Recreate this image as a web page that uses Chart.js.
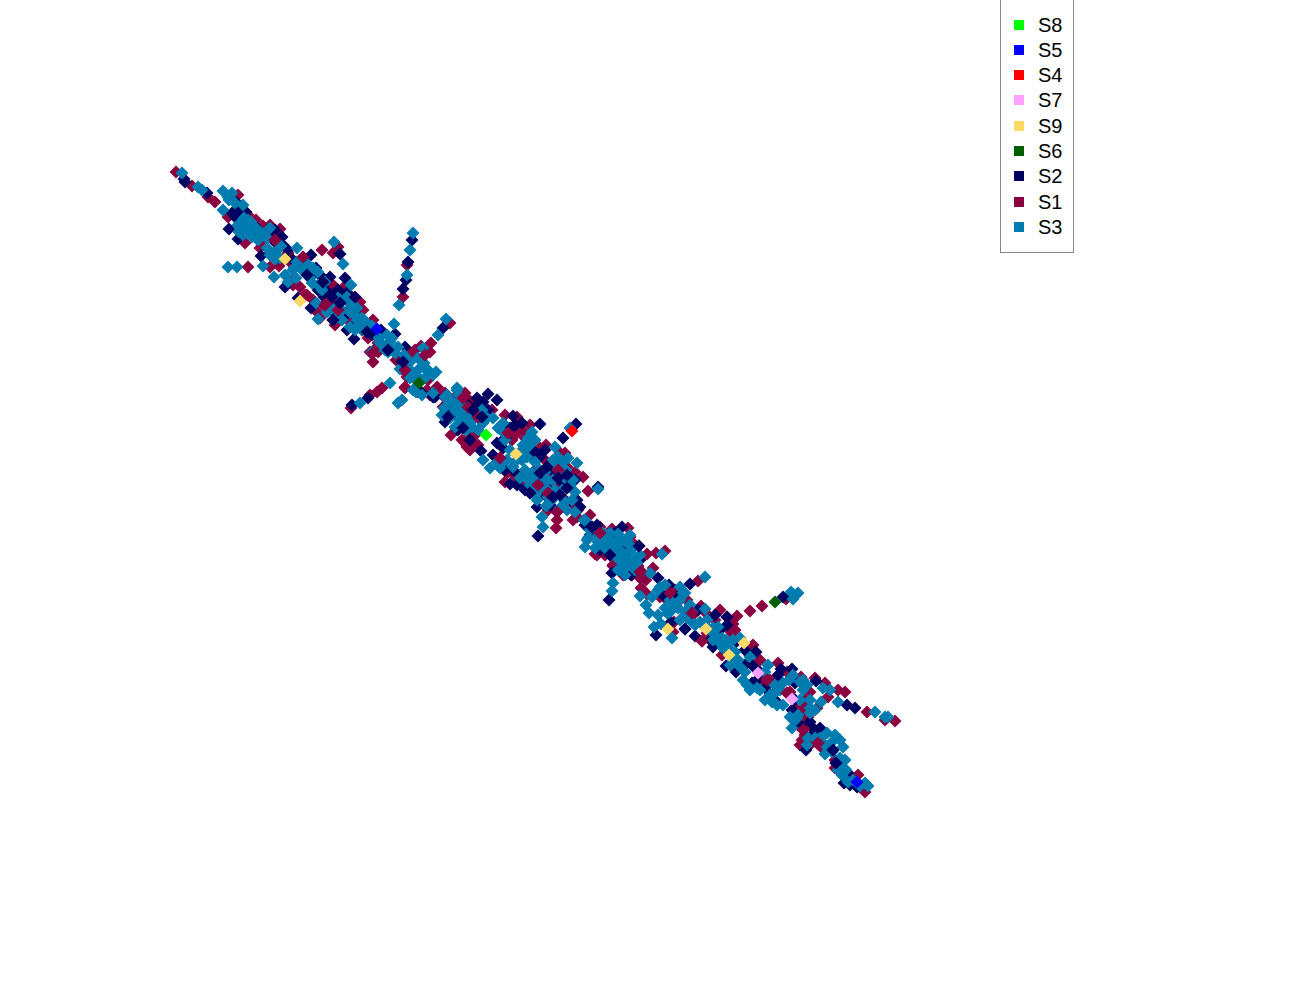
<!DOCTYPE html>
<html>
<head>
<meta charset="utf-8">
<title>Scatter</title>
<script src="https://cdn.jsdelivr.net/npm/chart.js@4/dist/chart.umd.min.js"></script>
<style>
  html, body { margin: 0; padding: 0; background: #fff; overflow: hidden; }
  #wrap { position: relative; width: 1300px; height: 1000px; }
  #legend { position: absolute; left: 1000px; top: -2px; width: 72px; height: 253px; border: 1px solid #888; background: #fff;
            font: 20px "Liberation Sans", Arial, sans-serif; color: #000; }
  #legend div { position: absolute; left: 37px; line-height: 22px; }
  #legend i { position: absolute; left: -24px; top: 6px; width: 10px; height: 10px; }
</style>
</head>
<body>
<div id="wrap">
  <canvas id="chart" width="1300" height="1000"></canvas>
  <div id="legend"></div>
</div>
<script>
// --- Points ---
const s1 = [[176,172],[192,186],[208,197],[215,202],[238,195],[228,217],[245,243],[248,215],[263,226],[280,229],[273,240],[260,248],[322,250],[338,247],[333,253],[248,267],[303,257],[288,253],[279,266],[270,267],[293,285],[307,295],[317,312],[323,305],[335,325],[328,302],[333,285],[343,288],[360,302],[353,322],[373,320],[368,338],[378,352],[373,362],[407,265],[403,297],[431,343],[430,352],[421,346],[412,353],[405,387],[407,377],[450,323],[400,360],[351,408],[377,392],[370,395],[382,388],[443,407],[437,387],[427,390],
  [451,435],[467,447],[472,443],[462,440],[405,388],[438,388],[467,398],[457,395],[500,458],[508,433],[517,433],[540,448],[517,417],[492,410],[524,485],[538,485],[557,488],[567,467],[575,472],[583,477],[588,491],[557,512],[557,520],[556,528],[597,555],[612,529],[613,566],[507,473],[560,453],[565,453],[630,537],[572,503],
  [577,517],[595,554],[600,533],[647,554],[665,551],[656,553],[613,565],[623,575],[642,572],[653,568],[698,581],[641,588],[647,594],[670,593],[665,598],[687,600],[701,606],[687,610],[695,613],[737,616],[733,624],[750,611],[762,606],[786,599],[702,641],[674,622],[673,632],[707,633],[722,655],[731,632],[760,660],[753,645],[778,663],[787,672],[801,677],[760,680],[770,680],[787,693],[815,678],[825,683],[838,690],[845,692],[828,697],[810,692],[817,708],[867,712],[895,721],[885,720],[803,730],[802,740],[817,743],[821,747],[835,768],[865,792],[858,775],[790,692],[805,707],[797,710],[803,718],
  [270,225],[256,220],[270,253],[283,260],[262,245],[278,233],[290,262],[295,278],[300,287],[302,298],[313,300],[320,318],[326,292],[345,298],[352,300],[346,318],[363,310],[355,312],[378,343],[370,352],[376,348],[396,360],[406,362],[415,350],[405,372],[407,365],[428,380],[418,392],[430,395],[442,395],[452,400],[348,293],
  [455,403],[465,393],[473,403],[445,393],[460,425],[470,435],[475,435],[478,445],[470,450],[465,443],[505,415],[522,430],[530,425],[512,440],[525,438],[546,445],[505,482],[515,476],[535,470],[545,460],[553,475],[562,497],[548,510],[578,510],[573,520],[590,515],[600,527],[593,532],[608,538],[605,555],[617,550],[628,528],[635,545],
  [605,535],[632,575],[640,578],[646,580],[638,566],[660,597],[675,590],[680,595],[705,612],[715,620],[720,610],[735,630],[745,650],[762,675],[765,677],[775,680],[778,685],[805,700],[800,712],[808,717],[795,700],[810,725],[805,735],[810,745],[828,748],[860,787],[835,760],[800,745]];
const s2 = [[184,179],[185,182],[207,193],[237,210],[236,218],[229,229],[238,239],[257,228],[255,233],[275,230],[282,237],[261,256],[340,254],[311,255],[285,287],[308,268],[330,277],[345,278],[313,275],[322,283],[333,295],[332,300],[347,293],[298,298],[311,308],[333,320],[347,330],[354,339],[367,332],[395,334],[405,347],[390,350],[402,362],[412,240],[406,280],[408,262],[403,289],[443,328],[420,392],[368,398],[352,405],[433,397],[450,417],
  [488,394],[497,400],[483,402],[477,398],[445,422],[483,417],[513,416],[515,425],[540,424],[576,424],[563,438],[497,443],[503,448],[481,451],[493,455],[540,457],[510,484],[517,485],[530,493],[547,467],[553,470],[558,478],[567,475],[567,488],[552,507],[560,495],[568,503],[538,536],[590,527],[622,527],[610,555],[421,392],[435,397],[463,428],[598,487],[513,470],[580,507],[537,507],
  [592,527],[639,546],[612,573],[631,575],[609,600],[658,578],[690,584],[669,585],[685,629],[656,635],[671,622],[695,636],[715,615],[727,617],[727,625],[736,642],[756,652],[713,647],[726,666],[736,672],[753,666],[781,669],[792,669],[816,681],[847,705],[855,708],[783,597],[775,692],[815,730],[806,750],[833,750],[836,763],[844,783],[752,683],[780,682],[792,710],[810,722],[677,597],
  [237,203],[240,212],[232,213],[246,212],[262,236],[270,235],[276,243],[268,232],[288,250],[283,245],[293,260],[300,262],[316,268],[320,275],[326,290],[318,290],[324,297],[338,290],[341,300],[327,305],[338,315],[345,316],[349,310],[355,325],[362,330],[372,335],[381,330],
  [450,410],[445,415],[468,405],[474,408],[488,410],[478,406],[458,430],[470,440],[510,428],[522,423],[505,438],[530,455],[535,452],[545,450],[520,475],[505,470],[525,490],[545,495],[540,480],[550,490],[575,480],[562,482],[577,500],[585,525],[597,530],[605,535],[590,535],[615,533],[622,545],[600,550],
  [597,525],[613,553],[630,548],[640,560],[620,570],[663,595],[680,600],[698,610],[710,640],[720,630],[745,650],[750,655],[745,665],[760,672],[757,680],[765,688],[778,675],[795,683],[775,700],[795,700],[800,725],[820,728],[812,735],[848,773],[850,785],[857,787]];
const s3 = [[202,190],[198,187],[182,173],[223,191],[228,197],[243,205],[223,210],[245,225],[242,222],[250,232],[240,228],[248,220],[255,237],[270,228],[267,238],[267,248],[277,250],[275,259],[297,248],[334,242],[343,264],[228,267],[237,267],[263,266],[274,277],[285,275],[288,282],[297,262],[308,265],[310,278],[325,282],[351,285],[347,297],[357,308],[342,310],[327,312],[318,319],[342,320],[350,327],[360,323],[367,323],[357,320],[316,303],[413,233],[410,250],[407,275],[399,305],[394,324],[387,335],[380,343],[390,342],[372,352],[395,353],[410,362],[423,348],[438,335],[446,319],[400,369],[418,370],[423,367],[413,373],[433,375],[390,383],[402,400],[398,403],[360,403],[445,397],[457,390],[452,403],[442,415],[433,393],[413,390],
  [457,388],[447,395],[457,403],[455,410],[463,413],[455,427],[473,420],[472,427],[483,423],[493,418],[482,410],[503,423],[503,432],[483,460],[490,468],[500,468],[507,460],[513,467],[528,438],[532,432],[523,445],[527,457],[522,460],[532,473],[537,480],[528,480],[547,480],[553,480],[557,467],[555,447],[570,428],[577,463],[558,457],[540,490],[537,500],[550,502],[565,502],[575,492],[573,480],[598,489],[575,512],[584,520],[542,517],[543,527],[585,547],[588,538],[597,537],[603,543],[620,543],[613,547],[627,540],[623,553],[633,548],[617,558],[627,563],[635,560],[610,533],
  [585,520],[587,540],[598,542],[595,548],[613,543],[620,538],[627,543],[615,548],[622,555],[627,560],[632,567],[623,563],[637,563],[625,568],[650,573],[662,554],[613,583],[612,591],[660,587],[658,590],[680,587],[683,593],[705,577],[640,596],[652,597],[646,605],[649,613],[658,615],[654,627],[661,624],[672,638],[670,612],[678,608],[667,613],[690,605],[705,609],[690,620],[695,625],[687,618],[718,627],[713,640],[722,638],[723,648],[740,638],[733,660],[750,657],[740,667],[768,665],[743,680],[757,688],[775,693],[772,702],[793,675],[807,685],[803,690],[823,688],[830,690],[810,700],[821,702],[838,702],[875,712],[885,717],[888,717],[790,717],[797,718],[792,728],[807,745],[827,733],[832,742],[840,740],[843,747],[825,754],[840,758],[843,768],[842,775],[853,780],[865,783],[791,592],[798,593],[793,599],[810,713],[795,720],
  [238,225],[244,218],[251,222],[256,228],[247,230],[252,237],[243,235],[239,232],[258,240],[262,233],[232,193],[229,200],[235,203],[280,258],[270,255],[281,246],[294,268],[302,270],[313,268],[318,272],[318,285],[322,290],[303,260],[293,270],[296,278],[312,283],[336,303],[349,303],[336,318],[350,312],[338,298],[330,310],[355,315],[362,318],[355,330],[362,330],[372,326],[379,338],[383,345],[385,350],[392,338],[398,347],[388,352],[404,355],[418,358],[424,363],[410,370],[416,375],[425,378],[418,382],[410,378],[428,370],[436,372],[422,395],[416,392],
  [450,400],[462,405],[467,415],[450,418],[460,420],[466,430],[478,417],[478,430],[487,418],[475,412],[459,395],[444,408],[468,422],[458,412],[498,428],[505,440],[510,450],[500,465],[497,462],[520,452],[525,450],[530,445],[535,440],[515,462],[525,470],[520,478],[535,462],[540,470],[545,472],[530,485],[533,492],[545,487],[555,490],[548,497],[562,490],[555,497],[546,506],[560,508],[570,485],[572,500],[567,510],[565,478],[560,470],[563,462],[553,460],[568,458],[566,470],
  [605,540],[610,540],[605,548],[618,534],[630,552],[640,555],[625,575],[640,572],[603,533],[590,530],[630,535],[612,552],[635,570],[618,570],[665,585],[670,600],[675,605],[680,600],[685,593],[665,608],[685,612],[680,620],[692,612],[700,622],[707,620],[710,630],[716,636],[720,643],[726,640],[713,628],[733,640],[728,648],[735,652],[730,665],[738,660],[745,672],[747,685],[750,690],[765,672],[760,690],[765,700],[770,695],[780,690],[775,685],[783,683],[789,680],[800,682],[803,680],[783,705],[777,705],[810,708],[800,700],[815,710],[798,715],[815,738],[820,738],[808,738],[835,735],[825,745],[832,752],[845,760],[838,770],[848,782],[846,770],[860,786],[868,786]];
// S1 and S2 points that sit over S3 in the picture
const s1Over = [[275,240],[303,257],[330,300],[325,305],[373,353],[405,370],[425,355],[305,295],[338,310],[463,398],[468,407],[478,417],[508,433],[500,458],[558,470],[538,485],[548,493],[557,512],[600,533],[640,572],[670,593],[692,613],[702,641],[767,680],[803,730],[818,743],[787,693]];
const s2Over = [[332,297],[307,275],[323,282],[340,303],[355,297],[333,320],[367,332],[388,350],[403,362],[448,417],[473,410],[482,417],[463,428],[515,425],[547,467],[558,478],[567,475],[553,497],[567,488],[560,495],[540,473],[530,493],[592,527],[610,555],[639,546],[727,617],[685,629],[753,666],[833,750],[836,763]];
const s4 = [[572,431]];
const s5 = [[377,329],[857,782]];
const s6 = [[419,383],[775,602]];
const s7 = [[758,673],[792,699]];
const s8 = [[486,435]];
const s9 = [[285,259],[300,301],[516,454],[668,629],[706,629],[744,643],[729,655]];
// faint tree edges, null breaks the line
const edges = [[397,310],[393,323],null,[390,383],[400,373],null,[637,580],[657,600],null,[766,655],[775,663],null,[740,610],[725,620]];

// legend order, top to bottom
const legendNames = ['S8','S5','S4','S7','S9','S6','S2','S1','S3'];
const colors = { S1:'#8a0040', S2:'#000060', S3:'#007cb0', S4:'#ff0000', S5:'#0000ff', S6:'#006000', S7:'#ffa0ff', S8:'#00ff00', S9:'#ffd966' };

const toPoints = (list) => list.map(p => p ? { x: p[0], y: p[1] } : { x: null, y: null });
const series = (name, list, order) => ({
  label: name, data: toPoints(list), order: order,
  pointStyle: 'rectRot', pointRadius: 6.5, pointHoverRadius: 6.5,
  pointBackgroundColor: colors[name], backgroundColor: colors[name], borderWidth: 0, pointBorderWidth: 0, showLine: false
});

// order: higher numbers are drawn first
new Chart(document.getElementById('chart'), {
  type: 'scatter',
  data: {
    datasets: [
      { label: 'edges', data: toPoints(edges), showLine: true, pointRadius: 0, borderColor: '#e8e8e8', borderWidth: 1, order: 20 },
      series('S1', s1, 12), series('S2', s2, 11), series('S3', s3, 10),
      series('S1', s1Over, 9), series('S2', s2Over, 8),
      series('S9', s9, 6), series('S7', s7, 5), series('S6', s6, 4),
      series('S4', s4, 3), series('S5', s5, 2), series('S8', s8, 1)
    ]
  },
  options: {
    responsive: false, animation: false,
    layout: { padding: 0, autoPadding: false },
    plugins: { legend: { display: false }, tooltip: { enabled: false } },
    scales: {
      x: { type: 'linear', min: 0, max: 1300, display: false },
      y: { type: 'linear', min: 0, max: 1000, reverse: true, display: false }
    }
  }
});

// Legend sits half off the top of the page like the original
const legendBox = document.getElementById('legend');
legendNames.forEach((name, i) => {
  const row = document.createElement('div');
  row.style.top = (14.5 + i * 25.3) + 'px';
  row.innerHTML = '<i style="background:' + colors[name] + '"></i>' + name;
  legendBox.appendChild(row);
});
</script>
</body>
</html>
